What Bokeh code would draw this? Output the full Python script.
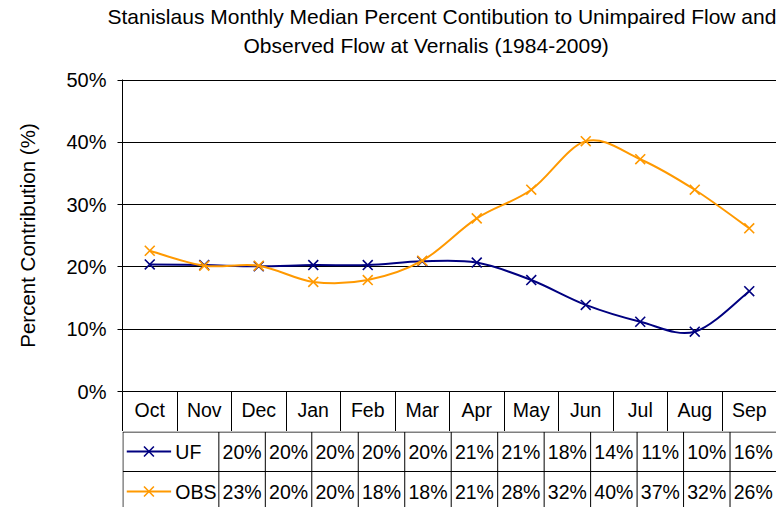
import numpy as np
from bokeh.plotting import figure
from bokeh.layouts import column
from bokeh.models import Range1d, FixedTicker, PrintfTickFormatter, Title, CustomJSTickFormatter
from bokeh.core.properties import value
from bokeh.embed import file_html
from bokeh.resources import INLINE

# ---------------- data ----------------
months = ["Oct", "Nov", "Dec", "Jan", "Feb", "Mar", "Apr", "May", "Jun", "Jul", "Aug", "Sep"]
uf = [20.4, 20.3, 20.1, 20.3, 20.3, 20.9, 20.7, 17.9, 13.9, 11.2, 9.6, 16.1]
obs = [22.6, 20.2, 20.2, 17.6, 17.9, 21.0, 27.8, 32.4, 40.2, 37.3, 32.4, 26.2]
series_names = ["UF", "OBS"]
y_ticks = [0, 10, 20, 30, 40, 50]
title_lines = ["Stanislaus Monthly Median Percent Contibution to Unimpaired Flow and",
               "Observed Flow at Vernalis (1984-2009)"]
y_label = "Percent Contribution (%)"

# ---------------- style / layout ----------------
FONT = "Liberation Sans"
COLORS = ["#000080", "#FF9900"]
W = 776
H_TOP = 431
H_TAB = 76
FRAME_LEFT = 122
FRAME_TOP = 79
HEADER = 40
ROW = 40.0

n = len(months)
xc = np.arange(n) + 0.5
series = [uf, obs]

# ---------------- chart ----------------
p = figure(width=W, height=H_TOP, x_range=Range1d(0, n), y_range=Range1d(0, 50.1),
           output_backend="svg", toolbar_location=None,
           min_border_left=FRAME_LEFT, min_border_right=0,
           min_border_top=FRAME_TOP, min_border_bottom=HEADER)
p.outline_line_color = None
p.background_fill_color = "white"
p.border_fill_color = "white"
p.xgrid.visible = False
p.ygrid.grid_line_color = "black"
p.ygrid.grid_line_width = 1
p.ygrid.ticker = FixedTicker(ticks=y_ticks)

# y axis
p.yaxis.ticker = FixedTicker(ticks=y_ticks)
p.yaxis.formatter = PrintfTickFormatter(format="%d%%")
p.yaxis.axis_line_color = "black"
p.yaxis.major_tick_line_color = "black"
p.yaxis.major_tick_out = 5
p.yaxis.major_tick_in = 0
p.yaxis.minor_tick_line_color = None
p.yaxis.major_label_standoff = 11
p.yaxis.major_label_text_font = FONT
p.yaxis.major_label_text_font_size = "20px"
p.yaxis.major_label_text_color = "black"
p.yaxis.axis_label = y_label
p.yaxis.axis_label_text_font = FONT
p.yaxis.axis_label_text_font_size = "20.5px"
p.yaxis.axis_label_text_font_style = "normal"
p.yaxis.axis_label_text_color = "black"
p.yaxis.axis_label_standoff = 24

# x axis (month header row)
p.xaxis.ticker = FixedTicker(ticks=list(xc), minor_ticks=list(range(n)))
p.xaxis.formatter = CustomJSTickFormatter(args=dict(labels=months),
                                          code="const i = Math.floor(tick); return (i >= 0 && i < labels.length) ? labels[i] : '';")
p.xaxis.axis_line_color = "black"
p.xaxis.major_tick_out = 0
p.xaxis.major_tick_in = 0
p.xaxis.minor_tick_out = HEADER
p.xaxis.minor_tick_in = 0
p.xaxis.minor_tick_line_color = "black"
p.xaxis.major_label_standoff = 7 - HEADER
p.xaxis.major_label_text_font = FONT
p.xaxis.major_label_text_font_size = "19.5px"
p.xaxis.major_label_text_color = "black"

# titles, stacked outward from the plot: spacer, second line, first line
p.add_layout(Title(text=" ", text_font_size="1px", standoff=18), "above")
p.add_layout(Title(text=title_lines[1], align="left", offset=121, text_font=FONT,
                   text_font_size="21px", text_font_style="normal", text_color="black",
                   standoff=4), "above")
p.add_layout(Title(text=title_lines[0], align="left", offset=-15, text_font=FONT,
                   text_font_size="21px", text_font_style="normal", text_color="black",
                   standoff=4), "above")


def smooth_segments(vals):
    pts = np.column_stack([xc, np.asarray(vals, dtype=float)])
    ext = np.vstack([pts[0], pts, pts[-1]])
    out = {k: [] for k in ["x0", "y0", "x1", "y1", "cx0", "cy0", "cx1", "cy1"]}
    for i in range(n - 1):
        pm, p0, p1, pp = ext[i], ext[i + 1], ext[i + 2], ext[i + 3]
        c0 = p0 + (p1 - pm) / 6.0
        c1 = p1 - (pp - p0) / 6.0
        out["x0"].append(p0[0]); out["y0"].append(p0[1])
        out["x1"].append(p1[0]); out["y1"].append(p1[1])
        out["cx0"].append(c0[0]); out["cy0"].append(c0[1])
        out["cx1"].append(c1[0]); out["cy1"].append(c1[1])
    return out


for vals, col in zip(series, COLORS):
    seg = smooth_segments(vals)
    p.bezier(x0=seg["x0"], y0=seg["y0"], x1=seg["x1"], y1=seg["y1"],
             cx0=seg["cx0"], cy0=seg["cy0"], cx1=seg["cx1"], cy1=seg["cy1"],
             line_color=col, line_width=2)
    p.scatter(x=xc, y=vals, marker="x", size=14, line_color=col, line_width=1.6)

# ---------------- data table ----------------
TAB_LEFT = 9
scale = (W - FRAME_LEFT) / n          # px per month
x0 = -(FRAME_LEFT - TAB_LEFT) / scale
q = figure(width=W, height=H_TAB, x_range=Range1d(x0, n), y_range=Range1d(-H_TAB / ROW, 0),
           output_backend="svg", toolbar_location=None,
           x_axis_location=None, y_axis_location=None,
           min_border_left=TAB_LEFT, min_border_right=0, min_border_top=0, min_border_bottom=0)
q.outline_line_color = None
q.grid.visible = False
q.background_fill_color = "white"
q.border_fill_color = "white"

left_border = x0 + 0.5 / scale
top_y = -0.5 / ROW
bottom_y = -H_TAB / ROW
# horizontal rules
q.segment(x0=[left_border, left_border], y0=[top_y, -1.0], x1=[n, n], y1=[top_y, -1.0],
          line_color="black", line_width=1)
# vertical rules
vx = [left_border] + list(range(n))
q.segment(x0=vx, y0=[top_y] * len(vx), x1=vx, y1=[bottom_y] * len(vx),
          line_color="black", line_width=1)

key_x0 = (14 - FRAME_LEFT) / scale
key_x1 = (66 - FRAME_LEFT) / scale
key_xm = (40 - FRAME_LEFT) / scale
key_tx = (71 - FRAME_LEFT) / scale
for r, (name, vals, col) in enumerate(zip(series_names, series, COLORS)):
    yc = -(r + 0.5)
    labels = ["%d%%" % int(round(v)) for v in vals]
    q.text(x=xc, y=[yc] * n, text=labels, text_align="center", text_baseline="middle",
           text_font=value(FONT), text_font_size="19.5px", text_color="black")
    q.segment(x0=[key_x0], y0=[yc], x1=[key_x1], y1=[yc], line_color=col, line_width=2)
    q.scatter(x=[key_xm], y=[yc], marker="x", size=14, line_color=col, line_width=1.6)
    q.text(x=[key_tx], y=[yc], text=[name], text_align="left", text_baseline="middle",
           text_font=value(FONT), text_font_size="19.5px", text_color="black")

layout = column(p, q, spacing=0)
open("out.html", "w").write(file_html(layout, INLINE))
